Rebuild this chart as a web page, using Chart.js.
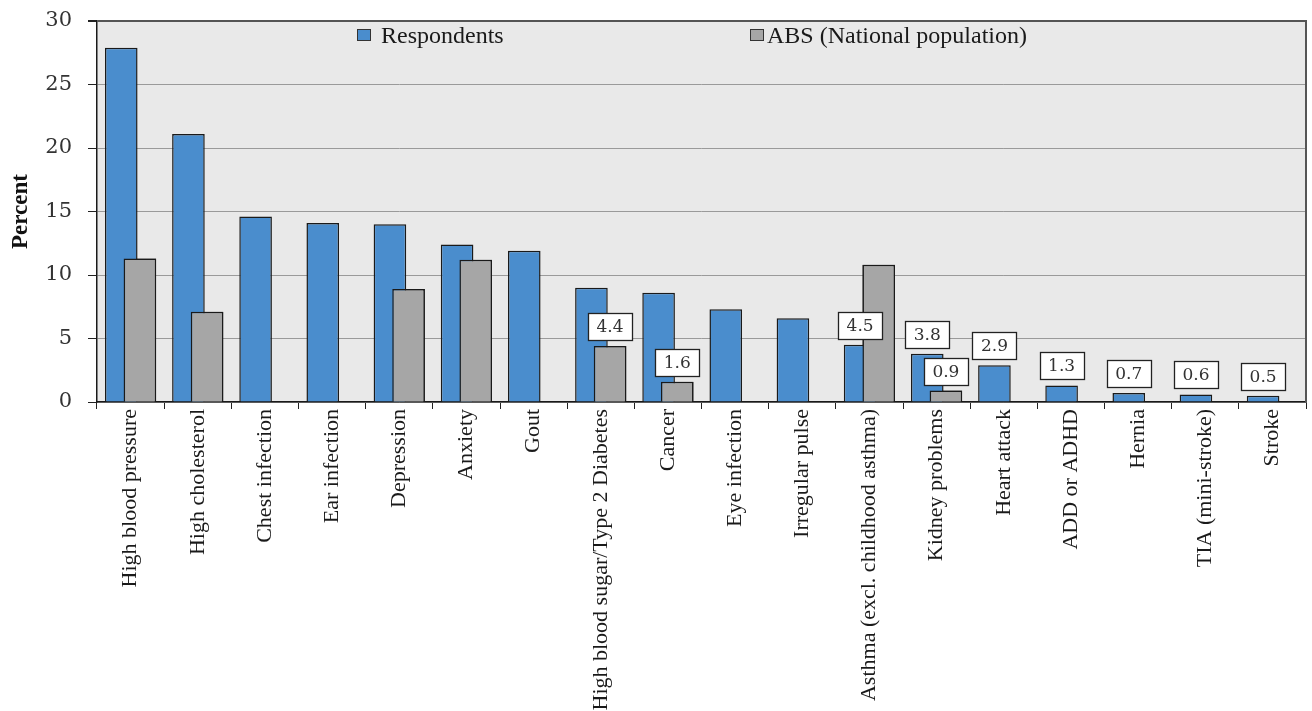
<!DOCTYPE html>
<html>
<head>
<meta charset="utf-8">
<script src="https://cdn.jsdelivr.net/npm/chart.js@4.4.1/dist/chart.umd.min.js"></script>
<style>
  html, body { margin: 0; padding: 0; background: #fff; }
</style>
</head>
<body>
<canvas id="chart" width="1312" height="711"></canvas>
<script>
const categories = [
  'High blood pressure', 'High cholesterol', 'Chest infection', 'Ear infection',
  'Depression', 'Anxiety', 'Gout', 'High blood sugar/Type 2 Diabetes', 'Cancer',
  'Eye infection', 'Irregular pulse', 'Asthma (excl. childhood asthma)',
  'Kidney problems', 'Heart attack', 'ADD or ADHD', 'Hernia', 'TIA (mini-stroke)', 'Stroke'
];
const respondents = [27.9, 21.1, 14.6, 14.1, 14.0, 12.4, 11.9, 9.0, 8.6, 7.3, 6.6, 4.5, 3.8, 2.9, 1.3, 0.7, 0.6, 0.5];
const absNational = [11.3, 7.1, null, null, 8.9, 11.2, null, 4.4, 1.6, null, null, 10.8, 0.9, null, null, null, null, null];
const yTicks = [0, 5, 10, 15, 20, 25, 30];
// which bars carry a boxed value label
const respondentsBoxed = [11, 12, 13, 14, 15, 16, 17];
const absBoxed = [7, 8, 12];

const serif = '"Liberation Serif", "Times New Roman", serif';
const BLUE = '#4a8dcd';
const GREY = '#a6a6a6';

// plot background, grey bars in front, right frame
const plotFrame = {
  id: 'plotFrame',
  beforeDraw(chart) {
    const a = chart.chartArea, ctx = chart.ctx;
    ctx.save();
    ctx.fillStyle = '#e9e9e9';
    ctx.fillRect(a.left, a.top, a.right - a.left, a.bottom - a.top);
    ctx.restore();
  },
  afterDatasetsDraw(chart) {
    chart.getDatasetMeta(1).controller.draw();
    const a = chart.chartArea, ctx = chart.ctx;
    ctx.save();
    ctx.strokeStyle = '#555';
    ctx.lineWidth = 2;
    ctx.beginPath();
    ctx.moveTo(a.right, a.top - 1);
    ctx.lineTo(a.right, a.bottom);
    ctx.stroke();
    ctx.restore();
  }
};

const valueBoxes = {
  id: 'valueBoxes',
  afterDraw(chart) {
    const ctx = chart.ctx;
    ctx.save();
    ctx.font = '17px "DejaVu Serif", serif';
    ctx.textAlign = 'center';
    ctx.textBaseline = 'middle';
    [[0, respondentsBoxed], [1, absBoxed]].forEach(([di, list]) => {
      const meta = chart.getDatasetMeta(di);
      list.forEach(i => {
        const bar = meta.data[i];
        const v = chart.data.datasets[di].data[i];
        const w = 44, h = 27;
        const x = Math.round(bar.x - w / 2), y = Math.round(bar.y - 6 - h);
        ctx.fillStyle = '#fff';
        ctx.fillRect(x, y, w, h);
        ctx.strokeStyle = '#222';
        ctx.lineWidth = 1.3;
        ctx.strokeRect(x + 0.5, y + 0.5, w, h);
        ctx.fillStyle = '#333';
        ctx.fillText(v.toFixed(1), bar.x, y + h / 2 + 1);
      });
    });
    ctx.restore();
  }
};

const innerLegend = {
  id: 'innerLegend',
  afterDraw(chart) {
    const ctx = chart.ctx;
    const spots = [[357, 381], [750, 767]];
    ctx.save();
    ctx.font = '24px ' + serif;
    ctx.textBaseline = 'alphabetic';
    chart.data.datasets.forEach((ds, i) => {
      const [bx, tx] = spots[i];
      ctx.fillStyle = ds.backgroundColor;
      ctx.fillRect(bx, 29, 13, 11);
      ctx.strokeStyle = '#333';
      ctx.lineWidth = 1;
      ctx.strokeRect(bx + 0.5, 29.5, 13, 11);
      ctx.fillStyle = '#1a1a1a';
      ctx.fillText(ds.label, tx, 43);
    });
    ctx.restore();
  }
};

new Chart(document.getElementById('chart'), {
  type: 'bar',
  data: {
    labels: categories,
    datasets: [
      {
        label: 'Respondents',
        data: respondents,
        backgroundColor: BLUE,
        borderColor: '#1a1a1a',
        borderWidth: 1.5,
        categoryPercentage: 0.555,
        barPercentage: 1.75
      },
      {
        label: 'ABS (National population)',
        data: absNational,
        backgroundColor: GREY,
        borderColor: '#1a1a1a',
        borderWidth: 1.5,
        categoryPercentage: 0.555,
        barPercentage: 1.75
      }
    ]
  },
  options: {
    responsive: false,
    animation: false,
    devicePixelRatio: 1,
    layout: { padding: { top: 21, right: 6, left: 0, bottom: 0 } },
    plugins: {
      legend: { display: false },
      tooltip: { enabled: false }
    },
    scales: {
      x: {
        offset: true,
        grid: {
          offset: true,
          drawOnChartArea: false,
          tickLength: 7,
          tickColor: '#222'
        },
        border: { color: '#1a1a1a', width: 1.5 },
        ticks: {
          autoSkip: false,
          minRotation: 90,
          maxRotation: 90,
          padding: 0,
          color: '#1a1a1a',
          font: { family: serif, size: 22 }
        },
        afterFit(scale) { scale.height = 309; }
      },
      y: {
        min: 0,
        max: 30,
        afterBuildTicks(scale) { scale.ticks = yTicks.map(v => ({ value: v })); },
        grid: {
          color: ctx => (ctx.tick && ctx.tick.value === 30 ? '#555' : '#9a9a9a'),
          lineWidth: ctx => (ctx.tick && ctx.tick.value === 30 ? 2 : 1),
          tickLength: 9,
          tickColor: '#222'
        },
        border: { color: '#1a1a1a', width: 1.5 },
        ticks: {
          padding: 16,
          color: '#333',
          font: { family: '"DejaVu Serif", serif', size: 21 }
        },
        title: {
          display: true,
          text: 'Percent',
          color: '#111',
          padding: { top: 7, bottom: 0 },
          font: { family: serif, size: 23, weight: 'bold' }
        },
        afterFit(scale) {
          scale.width = 97;
          scale.paddingTop = 0;
          scale.paddingBottom = 0;
        }
      }
    }
  },
  plugins: [plotFrame, valueBoxes, innerLegend]
});
</script>
</body>
</html>
